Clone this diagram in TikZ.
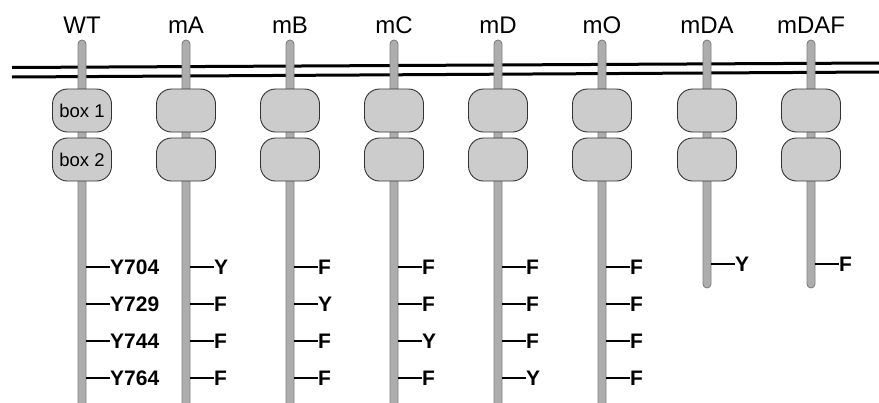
\documentclass[tikz,border=0pt]{standalone}
\usepackage{fontspec}
\setmainfont{Liberation Sans}
\usepackage{tikz}

\tikzset{
  stick/.style={draw=black!50,fill=black!32,line width=0.9pt,rounded corners=4pt,minimum width=8pt,inner sep=0pt},
  boxnode/.style={draw=black!80,fill=black!20,line width=0.9pt,rounded corners=15pt,minimum width=59pt,minimum height=43pt,inner sep=0pt,font=\fontsize{18.5}{20}\selectfont},
  colname/.style={inner sep=0pt,font=\fontsize{24}{26}\selectfont},
  res/.style={anchor=west,inner sep=0pt,font=\bfseries\fontsize{21}{23}\selectfont},
  tickline/.style={line width=1.8pt}
}

\begin{document}
\begin{tikzpicture}[x=1pt,y=-1pt]
                    \useasboundingbox (0,0) rectangle (879,402);

                    % membrane
                    \coordinate (ml1) at (12,67.5);
                    \coordinate (mr1) at (879,63);
                    \coordinate (ml2) at (12,77);
                    \coordinate (mr2) at (879,72);
                    \draw[line width=3pt] (ml1) -- (mr1);
                    \draw[line width=3pt] (ml2) -- (mr2);

                    % sticks
                    \node[stick,minimum height=380pt] at (82,230) (WT) {};
                    \node[stick,minimum height=380pt] at (186,230) (mA) {};
                    \node[stick,minimum height=380pt] at (290,230) (mB) {};
                    \node[stick,minimum height=380pt] at (394,230) (mC) {};
                    \node[stick,minimum height=380pt] at (498,230) (mD) {};
                    \node[stick,minimum height=380pt] at (602,230) (mO) {};
                    \node[stick,minimum height=248pt] at (707,164) (mDA) {};
                    \node[stick,minimum height=248pt] at (811,164) (mDAF) {};

                    % names
                    \node[colname] at (82,25) (WTl) {WT};
                    \node[colname] at (186,25) (mAl) {mA};
                    \node[colname] at (290,25) (mBl) {mB};
                    \node[colname] at (394,25) (mCl) {mC};
                    \node[colname] at (498,25) (mDl) {mD};
                    \node[colname] at (602,25) (mOl) {mO};
                    \node[colname] at (707,25) (mDAl) {mDA};
                    \node[colname] at (811,25) (mDAFl) {mDAF};

                    % boxes
                    \node[boxnode] at (82,110.5) (WT1) {box 1};
                    \node[boxnode] at (82,159.5) (WT2) {box 2};
                    \node[boxnode] at (186,110.5) (mA1) {};
                    \node[boxnode] at (186,159.5) (mA2) {};
                    \node[boxnode] at (290,110.5) (mB1) {};
                    \node[boxnode] at (290,159.5) (mB2) {};
                    \node[boxnode] at (394,110.5) (mC1) {};
                    \node[boxnode] at (394,159.5) (mC2) {};
                    \node[boxnode] at (498,110.5) (mD1) {};
                    \node[boxnode] at (498,159.5) (mD2) {};
                    \node[boxnode] at (602,110.5) (mO1) {};
                    \node[boxnode] at (602,159.5) (mO2) {};
                    \node[boxnode] at (707,110.5) (mDA1) {};
                    \node[boxnode] at (707,159.5) (mDA2) {};
                    \node[boxnode] at (811,110.5) (mDAF1) {};
                    \node[boxnode] at (811,159.5) (mDAF2) {};

                    % residues
                    \node[res] at (110,267) (WTa) {Y704};
                    \node[res] at (110,304) (WTb) {Y729};
                    \node[res] at (110,341) (WTc) {Y744};
                    \node[res] at (110,378) (WTd) {Y764};
                    \node[res] at (214,267) (mAa) {Y};
                    \node[res] at (214,304) (mAb) {F};
                    \node[res] at (214,341) (mAc) {F};
                    \node[res] at (214,378) (mAd) {F};
                    \node[res] at (318,267) (mBa) {F};
                    \node[res] at (318,304) (mBb) {Y};
                    \node[res] at (318,341) (mBc) {F};
                    \node[res] at (318,378) (mBd) {F};
                    \node[res] at (422,267) (mCa) {F};
                    \node[res] at (422,304) (mCb) {F};
                    \node[res] at (422,341) (mCc) {Y};
                    \node[res] at (422,378) (mCd) {F};
                    \node[res] at (526,267) (mDa) {F};
                    \node[res] at (526,304) (mDb) {F};
                    \node[res] at (526,341) (mDc) {F};
                    \node[res] at (526,378) (mDd) {Y};
                    \node[res] at (630,267) (mOa) {F};
                    \node[res] at (630,304) (mOb) {F};
                    \node[res] at (630,341) (mOc) {F};
                    \node[res] at (630,378) (mOd) {F};
                    \node[res] at (735,264) (mDAa) {Y};
                    \node[res] at (839,264) (mDAFa) {F};

                    \draw[tickline] (WT.east |- WTa) -- (WTa.west);
                    \draw[tickline] (WT.east |- WTb) -- (WTb.west);
                    \draw[tickline] (WT.east |- WTc) -- (WTc.west);
                    \draw[tickline] (WT.east |- WTd) -- (WTd.west);
                    \draw[tickline] (mA.east |- mAa) -- (mAa.west);
                    \draw[tickline] (mA.east |- mAb) -- (mAb.west);
                    \draw[tickline] (mA.east |- mAc) -- (mAc.west);
                    \draw[tickline] (mA.east |- mAd) -- (mAd.west);
                    \draw[tickline] (mB.east |- mBa) -- (mBa.west);
                    \draw[tickline] (mB.east |- mBb) -- (mBb.west);
                    \draw[tickline] (mB.east |- mBc) -- (mBc.west);
                    \draw[tickline] (mB.east |- mBd) -- (mBd.west);
                    \draw[tickline] (mC.east |- mCa) -- (mCa.west);
                    \draw[tickline] (mC.east |- mCb) -- (mCb.west);
                    \draw[tickline] (mC.east |- mCc) -- (mCc.west);
                    \draw[tickline] (mC.east |- mCd) -- (mCd.west);
                    \draw[tickline] (mD.east |- mDa) -- (mDa.west);
                    \draw[tickline] (mD.east |- mDb) -- (mDb.west);
                    \draw[tickline] (mD.east |- mDc) -- (mDc.west);
                    \draw[tickline] (mD.east |- mDd) -- (mDd.west);
                    \draw[tickline] (mO.east |- mOa) -- (mOa.west);
                    \draw[tickline] (mO.east |- mOb) -- (mOb.west);
                    \draw[tickline] (mO.east |- mOc) -- (mOc.west);
                    \draw[tickline] (mO.east |- mOd) -- (mOd.west);
                    \draw[tickline] (mDA.east |- mDAa) -- (mDAa.west);
                    \draw[tickline] (mDAF.east |- mDAFa) -- (mDAFa.west);
                \end{tikzpicture}
\end{document}
